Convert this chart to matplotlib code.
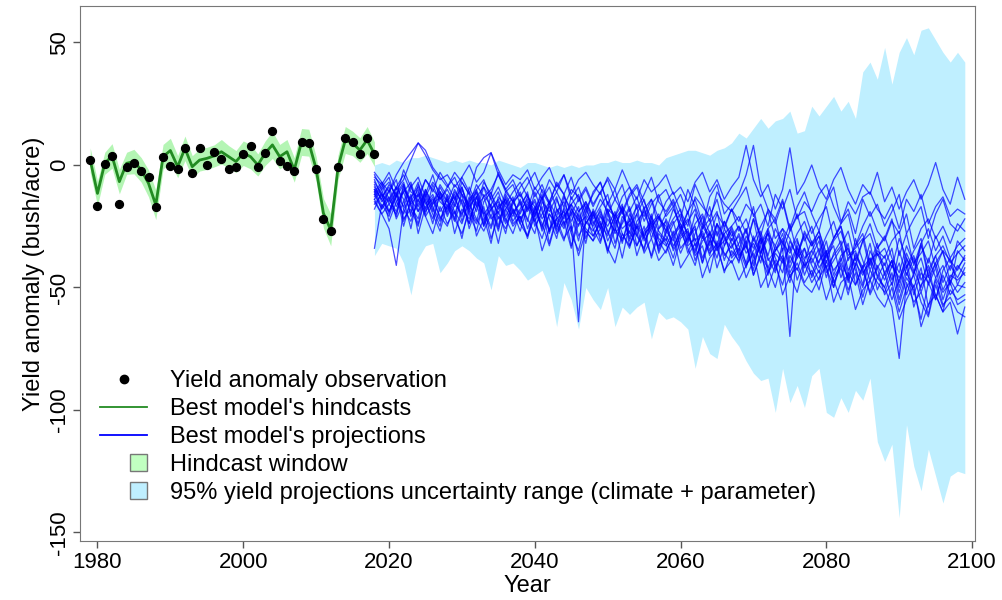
import matplotlib
matplotlib.use("Agg")
import matplotlib.pyplot as plt
from matplotlib.lines import Line2D
from matplotlib.patches import Rectangle
from matplotlib.legend_handler import HandlerBase
import numpy as np

plt.rcParams['font.family'] = ['Liberation Sans', 'DejaVu Sans']
plt.rcParams['axes.unicode_minus'] = False

obs_years = list(range(1979, 2019))
observed = [2.0, -16.7, 0.3, 3.7, -15.9, -1.0, 1.0, -2.6, -4.8, -17.1,
            3.3, -0.3, -1.6, 6.8, -3.1, 7.1, 0.1, 5.4, 2.6, -1.6,
            -0.7, 4.4, 7.8, -0.7, 4.8, 13.9, 1.5, -0.3, -2.3, 9.4,
            9.1, -1.6, -22.2, -26.9, -1.0, 11.0, 9.3, 4.4, 11.0, 4.4]
hindcast = [2.0, -11.6, 0.7, 3.7, -6.8, 0.7, 1.4, -2.0, -7.5, -16.3,
            3.4, 5.9, -0.7, 6.8, -0.7, 2.0, 2.7, 3.7, 5.4, 3.4,
            1.4, 4.8, 3.4, 0.0, 4.8, 8.2, 3.4, 5.4, -2.0, 9.4,
            9.1, -1.6, -19.7, -26.5, -1.0, 10.2, 8.8, 6.1, 10.2, 4.4]
hindcast_halfwidth = [5, 5, 4.5, 5, 5, 4.5, 5, 5, 5.5, 6,
                      5, 5, 4.5, 5, 4.5, 4.5, 4.5, 4.5, 5, 4.5,
                      4.5, 5, 5, 4.5, 5, 5.5, 5, 5, 5, 5.5,
                      5.5, 5, 6, 6.5, 5, 5.5, 5, 5, 5.5, 5]

proj_years = list(range(2018, 2100))
band_upper = [0, 1, 0, 2, 1, 3, 3, 4, 3, 2,
              1, 2, 1, 2, 1, 1, 0, 2, 1, 0,
              -1, 1, 1, 0, -1, 0, -1, 0, -1, 0,
              0, 1, 1, 2, 1, 1, 2, 1, 1, 0,
              3, 4, 5, 6, 6, 5, 4, 6, 7, 9,
              13, 11, 15, 19, 15, 18, 19, 22, 13, 14,
              24, 20, 24, 28, 22, 26, 19, 38, 42, 35,
              48, 33, 46, 52, 45, 55, 56, 51, 46, 42,
              46, 42]
band_lower = [-37, -32, -33, -34, -40, -53, -38, -33, -32, -44,
              -40, -35, -33, -35, -38, -40, -51, -37, -41, -40,
              -43, -47, -45, -43, -50, -66, -48, -55, -67, -50,
              -55, -59, -50, -66, -58, -61, -58, -56, -71, -60,
              -63, -62, -64, -67, -83, -70, -77, -79, -65, -70,
              -74, -80, -85, -88, -87, -101, -83, -97, -90, -99,
              -86, -83, -101, -103, -95, -101, -92, -96, -87, -113,
              -121, -114, -144, -106, -123, -133, -116, -127, -138, -127,
              -125, -126]

projections = [
    [-5, -8, -3, -10, -6, 2, 9, 4, -2, -6, -4, -9, -5, 0, -7, -3, 5, -2, -8, -4,
     -6, -2, -10, -5, -1, -9, -4, -12, -6, -3, -8, -12, -5, -10, -2, -9, -14, -6, -11, -8,
     -4, -12, -9, -15, -7, -3, -11, -6, -14, -9, -5, 8, -6, -13, -8, -18, -10, 7, -12, -7,
     0, -9, -14, -6, -1, -10, -16, -8, -12, -3, -15, -9, -18, -11, -6, -14, -8, 1, -10, -16,
     -5, -14],
    [-10, -14, -8, -12, -17, -9, -5, -13, -7, -11, -15, -8, -12, -18, -10, -6, -14, -9, -16, -11,
     -7, -13, -19, -10, -15, -8, -12, -20, -14, -9, -16, -11, -6, -14, -19, -12, -8, -15, -22, -13,
     -10, -17, -12, -20, -8, -15, -23, -11, -16, -19, -14, -9, -21, -16, -25, -12, -18, -10, -22, -15,
     -19, -12, -8, -17, -24, -15, -20, -13, -11, -18, -22, -16, -26, -14, -19, -12, -24, -17, -13, -21,
     -18, -20],
    [-7, -12, -15, -9, -4, -11, -13, -6, -10, -14, -9, -5, -12, -16, -8, -13, -10, -4, -11, -15,
     -12, -18, -9, -14, -6, -11, -17, -10, -13, -20, -11, -7, -16, -21, -13, -9, -18, -12, -5, -15,
     -19, -14, -22, -10, -17, -25, -13, -8, -20, -16, -12, -4, 8, -10, -18, -22, -14, -26, -17, -11,
     -20, -27, -15, -9, -23, -18, -28, -14, -21, -16, -25, -19, -12, -28, -22, -17, -30, -20, -14, -24,
     -27, -22],
    [-12, -18, -10, -22, -15, -8, -19, -14, -24, -11, -17, -13, -21, -9, -16, -25, -12, -18, -14, -20,
     -15, -23, -11, -19, -27, -14, -21, -16, -12, -24, -19, -26, -15, -22, -18, -30, -20, -14, -25, -21,
     -27, -18, -24, -32, -20, -26, -17, -29, -23, -31, -25, -34, -22, -29, -37, -26, -32, -24, -36, -28,
     -33, -27, -38, -30, -25, -35, -41, -31, -28, -37, -34, -42, -30, -38, -45, -33, -40, -29, -36, -43,
     -31, -35],
    [-15, -20, -26, -41, -18, -23, -14, -21, -28, -17, -24, -19, -30, -16, -22, -27, -20, -32, -18, -25,
     -21, -29, -17, -24, -33, -22, -19, -28, -35, -23, -27, -20, -31, -25, -38, -24, -29, -34, -22, -30,
     -33, -27, -36, -29, -25, -40, -31, -35, -28, -38, -34, -42, -30, -37, -45, -33, -39, -48, -36, -41,
     -38, -44, -35, -50, -40, -46, -37, -43, -52, -41, -47, -39, -55, -44, -50, -42, -58, -46, -52, -48,
     -57, -55],
    [-34, -16, -21, -12, -25, -14, -19, -10, -17, -23, -13, -28, -18, -22, -15, -20, -26, -16, -24, -19,
     -27, -17, -23, -30, -20, -25, -18, -33, -24, -21, -29, -23, -35, -26, -31, -22, -37, -28, -25, -33,
     -30, -38, -27, -34, -41, -29, -36, -32, -44, -35, -39, -31, -45, -37, -42, -50, -38, -46, -40, -48,
     -43, -51, -39, -47, -55, -44, -49, -41, -53, -46, -50, -58, -79, -48, -56, -52, -61, -47, -57, -54,
     -60, -62],
    [-11, -7, -14, -19, -9, -16, -12, -20, -8, -15, -18, -12, -23, -14, -10, -19, -25, -13, -17, -21,
     -14, -26, -18, -12, -22, -30, -17, -24, -64, -20, -25, -18, -28, -21, -16, -31, -23, -19, -27, -34,
     -22, -29, -25, -36, -28, -21, -33, -27, -39, -30, -35, -26, -41, -32, -28, -38, -44, -31, -37, -29,
     -40, -34, -46, -36, -31, -43, -38, -49, -35, -42, -37, -47, -40, -53, -44, -38, -49, -42, -55, -46,
     -41, -45],
    [-14, -10, -19, -13, -8, -21, -16, -11, -18, -25, -12, -17, -9, -20, -27, -15, -11, -22, -18, -13,
     -24, -16, -21, -13, -28, -19, -15, -23, -17, -30, -20, -26, -18, -32, -23, -17, -28, -35, -21, -27,
     -31, -24, -20, -29, -36, -26, -22, -34, -28, -25, -33, -40, -29, -36, -27, -43, -34, -70, -31, -38,
     -35, -29, -42, -37, -33, -45, -30, -39, -47, -36, -41, -34, -50, -38, -44, -32, -46, -40, -35, -48,
     -42, -38],
    [-6, -13, -9, -17, -11, -20, -8, -15, -22, -12, -19, -10, -16, -24, -13, -21, -32, -17, -14, -23,
     -18, -11, -25, -20, -15, -27, -21, -16, -29, -24, -19, -31, -22, -27, -17, -33, -25, -30, -20, -36,
     -28, -23, -34, -30, -26, -38, -31, -24, -37, -33, -29, -41, -35, -30, -44, -36, -40, -33, -47, -39,
     -45, -36, -42, -50, -38, -47, -41, -54, -43, -48, -52, -44, -57, -46, -51, -63, -48, -55, -45, -53,
     -49, -50],
    [-13, -9, -5, -15, -11, -7, -17, -12, -4, -14, -10, -16, -7, -12, -19, -9, -14, -20, -11, -8,
     -16, -12, -21, -14, -9, -18, -25, -13, -19, -15, -22, -17, -12, -24, -19, -28, -16, -21, -14, -26,
     -20, -15, -27, -23, -18, -30, -24, -19, -33, -25, -21, -28, -17, -32, -26, -22, -35, -27, -20, -31,
     -25, -36, -29, -23, -33, -27, -39, -31, -24, -34, -30, -22, -37, -28, -41, -32, -26, -35, -29, -38,
     -33, -30],
    [-8, -15, -11, -6, -18, -13, -9, -16, -12, -19, -14, -22, -10, -17, -13, -24, -16, -11, -21, -15,
     -20, -13, -17, -26, -15, -21, -12, -27, -19, -16, -23, -29, -18, -21, -32, -20, -26, -17, -30, -22,
     -25, -33, -28, -19, -31, -27, -35, -24, -29, -37, -32, -26, -38, -30, -42, -35, -28, -40, -33, -45,
     -37, -31, -44, -39, -34, -48, -36, -42, -32, -46, -40, -49, -35, -45, -38, -52, -43, -37, -48, -41,
     -46, -40],
    [-16, -12, -20, -9, -14, -26, -11, -18, -13, -22, -17, -23, -14, -19, -11, -25, -18, -15, -22, -28,
     -19, -14, -23, -17, -32, -21, -26, -18, -22, -27, -31, -21, -25, -19, -28, -34, -24, -29, -37, -26,
     -23, -35, -29, -26, -39, -31, -28, -42, -33, -27, -38, -32, -45, -36, -30, -41, -49, -37, -43, -34,
     -46, -39, -35, -48, -42, -53, -40, -45, -38, -51, -44, -55, -47, -41, -58, -49, -45, -53, -60, -47,
     -52, -48],
    [-4, -10, -7, -13, -2, -9, -15, -6, -11, -3, -8, -14, -5, -11, -17, -7, -12, -3, -10, -15,
     -9, -5, -13, -8, -16, -11, -4, -14, -9, -18, -12, -7, -16, -10, -20, -13, -9, -18, -14, -22,
     -15, -11, -19, -25, -13, -17, -21, -14, -26, -18, -23, -16, -20, -29, -18, -24, -15, -27, -21, -19,
     -28, -22, -17, -30, -24, -20, -33, -25, -19, -27, -31, -23, -28, -20, -34, -26, -22, -30, -25, -32,
     -24, -27],
    [-18, -11, -23, -15, -20, -12, -28, -17, -14, -21, -25, -16, -20, -13, -29, -22, -18, -27, -15, -24,
     -21, -30, -19, -25, -16, -28, -23, -34, -20, -26, -29, -24, -36, -22, -30, -27, -33, -25, -38, -28,
     -32, -41, -30, -27, -37, -33, -44, -31, -36, -40, -35, -46, -39, -33, -50, -41, -37, -45, -52, -40,
     -48, -43, -55, -46, -41, -51, -44, -57, -47, -42, -53, -48, -60, -50, -45, -56, -62, -49, -58, -51,
     -55, -53],
    [-3, -7, -11, -4, 1, 5, 9, 6, -1, -5, -9, -3, -7, -12, -1, 3, 5, -4, -10, -6,
     -13, -8, -3, -11, -16, -7, -12, -5, -15, -10, -17, -11, -20, -14, -8, -19, -13, -23, -16, -12,
     -21, -17, -26, -19, -14, -24, -29, -20, -25, -18, -27, -22, -31, -25, -19, -30, -26, -35, -28, -23,
     -32, -27, -36, -30, -25, -39, -33, -28, -41, -34, -29, -38, -44, -33, -40, -36, -31, -42, -35, -39,
     -43, -37],
    [-10, -17, -13, -21, -8, -16, -24, -12, -19, -9, -15, -20, -12, -26, -17, -13, -22, -19, -28, -14,
     -22, -18, -15, -27, -20, -24, -31, -19, -25, -17, -26, -32, -20, -28, -24, -18, -33, -27, -23, -31,
     -36, -28, -24, -33, -30, -40, -27, -34, -31, -26, -37, -33, -43, -29, -39, -35, -31, -44, -38, -34,
     -41, -47, -36, -43, -39, -32, -49, -42, -38, -45, -50, -41, -46, -39, -53, -44, -48, -40, -51, -45,
     -47, -44],
    [-12, -8, -16, -20, -10, -14, -7, -19, -15, -11, -21, -14, -9, -18, -23, -12, -17, -26, -13, -19,
     -16, -22, -28, -15, -19, -13, -24, -20, -31, -18, -24, -19, -27, -34, -21, -25, -20, -29, -24, -35,
     -27, -31, -22, -28, -35, -25, -30, -38, -26, -32, -40, -29, -34, -27, -38, -44, -32, -36, -30, -42,
     -35, -40, -31, -45, -37, -34, -43, -50, -39, -36, -44, -39, -52, -42, -37, -47, -41, -55, -43, -38,
     -49, -42],
    [-14, -20, -16, -11, -22, -18, -25, -13, -20, -27, -16, -22, -28, -19, -24, -17, -30, -21, -26, -18,
     -24, -29, -21, -35, -26, -22, -30, -25, -37, -27, -31, -26, -34, -40, -28, -33, -25, -36, -30, -39,
     -35, -29, -42, -37, -32, -46, -38, -34, -43, -39, -47, -41, -36, -50, -44, -39, -53, -45, -42, -49,
     -52, -46, -41, -56, -48, -45, -59, -51, -47, -54, -58, -50, -63, -55, -49, -66, -57, -53, -60, -56,
     -69, -58],
    [-9, -14, -19, -12, -7, -17, -22, -10, -16, -13, -20, -11, -15, -24, -13, -9, -18, -14, -23, -16,
     -11, -19, -14, -22, -17, -26, -13, -18, -23, -15, -21, -14, -19, -25, -17, -22, -29, -18, -24, -20,
     -27, -22, -18, -31, -24, -20, -28, -33, -23, -29, -25, -32, -22, -36, -28, -33, -26, -30, -38, -27,
     -33, -29, -40, -31, -27, -37, -34, -30, -43, -35, -38, -31, -27, -42, -35, -30, -45, -37, -33, -40,
     -36, -33],
    [-11, -18, -14, -9, -23, -15, -10, -21, -16, -8, -13, -19, -24, -15, -11, -20, -16, -25, -12, -18,
     -23, -15, -20, -13, -27, -18, -22, -16, -21, -32, -18, -24, -29, -20, -26, -23, -17, -31, -26, -21,
     -29, -34, -26, -22, -33, -28, -37, -24, -30, -34, -28, -36, -32, -40, -26, -35, -30, -42, -34, -39,
     -31, -42, -37, -33, -46, -38, -35, -44, -40, -32, -45, -39, -48, -36, -43, -50, -38, -46, -41, -49,
     -35, -39],
]


class SquareHandler(HandlerBase):
    # small square at the right end of the handle, like R's legend fill boxes
    def create_artists(self, legend, orig_handle, xdescent, ydescent,
                       width, height, fontsize, trans):
        size = 12.2
        r = Rectangle((width - size - xdescent, (height - size) / 2 - ydescent), size, size,
                      facecolor=orig_handle.get_facecolor(),
                      edgecolor=orig_handle.get_edgecolor(), lw=1, transform=trans)
        return [r]


fig = plt.figure(figsize=(10.03, 6.0), dpi=100)
ax = fig.add_axes([80 / 1003, 1 - 541 / 600, 895 / 1003, 535 / 600])

hc = np.array(hindcast)
hw = np.array(hindcast_halfwidth)
ax.fill_between(proj_years, band_lower, band_upper, color='#BFEFFF', linewidth=0, zorder=1)
ax.fill_between(obs_years, hc - hw, hc + hw, color='#B4F5B4', linewidth=0, zorder=1)
for run in projections:
    ax.plot(proj_years, run, color='#0000FF', lw=0.9, alpha=0.7, zorder=2)
ax.plot(obs_years, hindcast, color='#228B22', lw=2, zorder=3)
ax.scatter(obs_years, observed, s=32, color='black', zorder=4)

ax.set_xlim(1977.6, 2100.4)
ax.set_ylim(-153.5, 64.9)
ax.set_xticks(range(1980, 2101, 20))
ax.set_yticks([-150, -100, -50, 0, 50])
ax.tick_params(direction='out', length=5, width=1, labelsize=16, color='#555555')
ax.tick_params(axis='x', pad=3)
ax.tick_params(axis='y', pad=2)
plt.setp(ax.get_yticklabels(), rotation=90, va='center')
for sp in ax.spines.values():
    sp.set_color('#777777')
ax.set_xlabel('Year', fontsize=17, labelpad=1)
ax.set_ylabel('Yield anomaly (bush/acre)', fontsize=17, labelpad=3)

handles = [
    Line2D([], [], marker='o', color='black', linestyle='none', markersize=6),
    Line2D([], [], color='#228B22', lw=1.3),
    Line2D([], [], color='#0000FF', lw=1.3),
    Rectangle((0, 0), 1, 1, facecolor='#C1FFC1', edgecolor='#777777'),
    Rectangle((0, 0), 1, 1, facecolor='#BFEFFF', edgecolor='#777777'),
]
labels = ['Yield anomaly observation', "Best model's hindcasts",
          "Best model's projections", 'Hindcast window',
          '95% yield projections uncertainty range (climate + parameter)']
fig.legend(handles, labels, loc='upper left', bbox_to_anchor=(100 / 1003, 1 - 370 / 600),
           frameon=False, fontsize=17, handlelength=2.0, handletextpad=0.95,
           labelspacing=0.25, borderpad=0, borderaxespad=0,
           handler_map={Rectangle: SquareHandler()})

fig.savefig('out.png', dpi=100)
